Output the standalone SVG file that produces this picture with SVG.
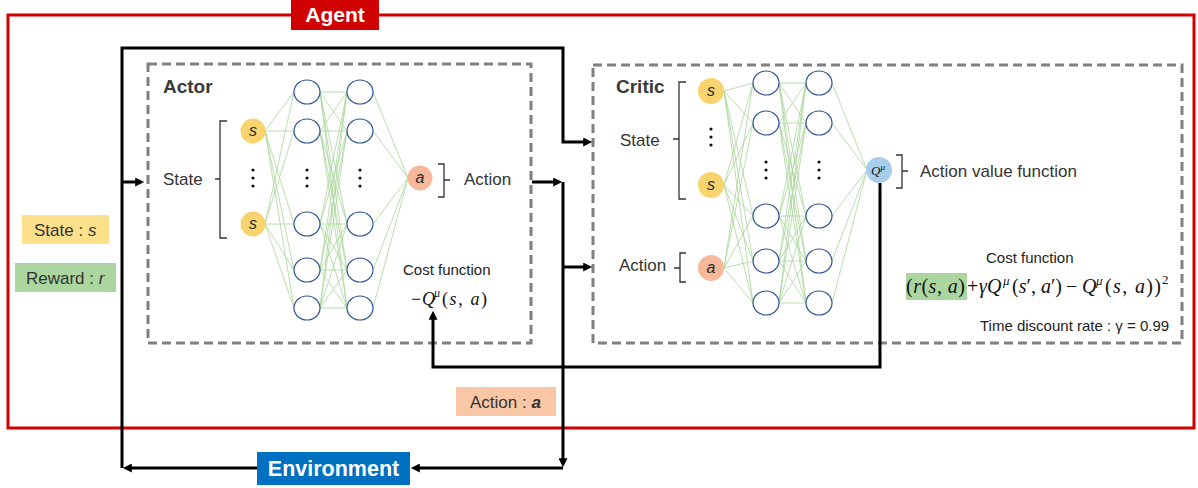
<svg xmlns="http://www.w3.org/2000/svg" width="1198" height="488" viewBox="0 0 1198 488">
<style>
.sans{font-family:"Liberation Sans",Arial,sans-serif;}
.serif{font-family:"Liberation Serif","Times New Roman",serif;fill:#111;}
.lbl{font-family:"Liberation Sans",Arial,sans-serif;font-size:17px;fill:#333;}
.small{font-family:"Liberation Sans",Arial,sans-serif;font-size:15px;fill:#222;}
.title{font-family:"Liberation Sans",Arial,sans-serif;font-size:19px;font-weight:bold;fill:#3a3a3a;}
.dash{fill:none;stroke:#808080;stroke-width:3;stroke-dasharray:9 5;}
.hid{fill:#fff;stroke:#2F5597;stroke-width:1.2;}
.sin{fill:#F9D46E;}
.ain{fill:#F7B89B;}
.nt{font-family:"Liberation Sans",Arial,sans-serif;font-size:16px;font-style:italic;fill:#2a2a2a;text-anchor:middle;}
.wire{fill:none;stroke:#A9D69B;stroke-width:0.8;}
.br{fill:none;stroke:#333;stroke-width:1.3;}
.conn{fill:none;stroke:#000;stroke-width:3;}
.dot{fill:#111;}
.it{font-style:italic;}
</style>
<defs>
<marker id="arr" viewBox="0 0 10 10" refX="2" refY="5" markerWidth="10" markerHeight="9" markerUnits="userSpaceOnUse" orient="auto">
<path d="M0,0 L10,5 L0,10 z" fill="#000"/>
</marker>
</defs>
<rect width="1198" height="488" fill="#fff"/>

<g id="agent">
<rect x="8" y="15" width="1186" height="413" fill="none" stroke="#D00000" stroke-width="3"/>
<rect x="291" y="0" width="88" height="30" fill="#D00000"/>
<text x="335" y="22" class="sans" font-size="21" font-weight="bold" fill="#fff" text-anchor="middle">Agent</text>
</g>

<g id="legend-state">
<rect x="22" y="215" width="87" height="29" fill="#FCE08C"/>
<text x="34" y="236" class="lbl">State : <tspan class="it">s</tspan></text>
</g>
<g id="legend-reward">
<rect x="15" y="263" width="101" height="29" fill="#ABD69F"/>
<text x="26" y="284" class="lbl">Reward : <tspan class="it">r</tspan></text>
</g>
<g id="legend-action">
<rect x="456" y="387" width="100" height="29" fill="#F9C6A6"/>
<text x="470" y="408" class="lbl">Action :  <tspan class="it" font-weight="bold">a</tspan></text>
</g>

<g id="environment">
<rect x="257" y="452" width="153" height="33" fill="#0070C0"/>
<text x="333.5" y="476" class="sans" font-size="21.5" font-weight="bold" fill="#fff" text-anchor="middle">Environment</text>
</g>

<g id="actor">
<rect x="148" y="64" width="383" height="279" class="dash"/>
<text x="163" y="93" class="title">Actor</text>
<path class="wire" d="M265 131L294 92M265 131L294 131M265 131L294 224M265 131L294 270M265 131L294 308M265 224L294 92M265 224L294 131M265 224L294 224M265 224L294 270M265 224L294 308
M320 92L347 92M320 92L347 131M320 92L347 224M320 92L347 270M320 92L347 308
M320 131L347 92M320 131L347 131M320 131L347 224M320 131L347 270M320 131L347 308
M320 224L347 92M320 224L347 131M320 224L347 224M320 224L347 270M320 224L347 308
M320 270L347 92M320 270L347 131M320 270L347 224M320 270L347 270M320 270L347 308
M320 308L347 92M320 308L347 131M320 308L347 224M320 308L347 270M320 308L347 308
M373 92L408 178M373 131L408 178M373 224L408 178M373 270L408 178M373 308L408 178"/>
<circle cx="253" cy="131" r="12.5" class="sin"/>
<text x="253" y="136" class="nt">s</text>
<circle cx="253" cy="224" r="12.5" class="sin"/>
<text x="253" y="229" class="nt">s</text>
<circle cx="253" cy="170" r="1.6" class="dot"/><circle cx="253" cy="178" r="1.6" class="dot"/><circle cx="253" cy="186" r="1.6" class="dot"/>
<ellipse cx="307" cy="92" rx="13" ry="12" class="hid"/>
<ellipse cx="307" cy="131" rx="13" ry="12" class="hid"/>
<ellipse cx="307" cy="224" rx="13" ry="12" class="hid"/>
<ellipse cx="307" cy="270" rx="13" ry="12" class="hid"/>
<ellipse cx="307" cy="308" rx="13" ry="12" class="hid"/>
<circle cx="307" cy="170" r="1.6" class="dot"/><circle cx="307" cy="178" r="1.6" class="dot"/><circle cx="307" cy="186" r="1.6" class="dot"/>
<ellipse cx="360" cy="92" rx="13" ry="12" class="hid"/>
<ellipse cx="360" cy="131" rx="13" ry="12" class="hid"/>
<ellipse cx="360" cy="224" rx="13" ry="12" class="hid"/>
<ellipse cx="360" cy="270" rx="13" ry="12" class="hid"/>
<ellipse cx="360" cy="308" rx="13" ry="12" class="hid"/>
<circle cx="360" cy="170" r="1.6" class="dot"/><circle cx="360" cy="178" r="1.6" class="dot"/><circle cx="360" cy="186" r="1.6" class="dot"/>
<circle cx="420" cy="178" r="12.5" class="ain"/>
<text x="420" y="183" class="nt">a</text>
<path class="br" d="M227 121L220 121L220 238L227 238M220 179L215 179"/>
<text x="163" y="185" class="lbl">State</text>
<path class="br" d="M438 164L444 164L444 197L438 197M444 180L450 180"/>
<text x="464" y="185" class="lbl">Action</text>
<text x="403" y="275" class="small">Cost function</text>
<text x="411" y="305" class="serif" font-size="18">−</text>
<text x="422" y="305" class="serif it" font-size="18">Q</text>
<text x="434" y="297" class="serif it" font-size="12">μ</text>
<text x="442" y="305" class="serif" font-size="18" textLength="45" lengthAdjust="spacing">(<tspan class="it">s</tspan>, <tspan class="it">a</tspan>)</text>
</g>

<g id="critic">
<rect x="593" y="65" width="589" height="278" class="dash"/>
<text x="616" y="93" class="title">Critic</text>
<path class="wire" d="M724 91L753 83M724 91L753 123M724 91L753 216M724 91L753 261M724 91L753 303
M724 185L753 83M724 185L753 123M724 185L753 216M724 185L753 261M724 185L753 303
M724 268L753 83M724 268L753 123M724 268L753 216M724 268L753 261M724 268L753 303
M779 83L806 83M779 83L806 123M779 83L806 216M779 83L806 261M779 83L806 303
M779 123L806 83M779 123L806 123M779 123L806 216M779 123L806 261M779 123L806 303
M779 216L806 83M779 216L806 123M779 216L806 216M779 216L806 261M779 216L806 303
M779 261L806 83M779 261L806 123M779 261L806 216M779 261L806 261M779 261L806 303
M779 303L806 83M779 303L806 123M779 303L806 216M779 303L806 261M779 303L806 303
M832 83L867 170M832 123L867 170M832 216L867 170M832 261L867 170M832 303L867 170"/>
<circle cx="711" cy="91" r="13" class="sin"/>
<text x="711" y="96" class="nt">s</text>
<circle cx="711" cy="185" r="13" class="sin"/>
<text x="711" y="190" class="nt">s</text>
<circle cx="711" cy="268" r="13" class="ain"/>
<text x="711" y="273" class="nt">a</text>
<circle cx="711" cy="129" r="1.6" class="dot"/><circle cx="711" cy="137" r="1.6" class="dot"/><circle cx="711" cy="145" r="1.6" class="dot"/>
<ellipse cx="766" cy="83" rx="13" ry="12" class="hid"/>
<ellipse cx="766" cy="123" rx="13" ry="12" class="hid"/>
<ellipse cx="766" cy="216" rx="13" ry="12" class="hid"/>
<ellipse cx="766" cy="261" rx="13" ry="12" class="hid"/>
<ellipse cx="766" cy="303" rx="13" ry="12" class="hid"/>
<circle cx="766" cy="162" r="1.6" class="dot"/><circle cx="766" cy="170" r="1.6" class="dot"/><circle cx="766" cy="178" r="1.6" class="dot"/>
<ellipse cx="819" cy="83" rx="13" ry="12" class="hid"/>
<ellipse cx="819" cy="123" rx="13" ry="12" class="hid"/>
<ellipse cx="819" cy="216" rx="13" ry="12" class="hid"/>
<ellipse cx="819" cy="261" rx="13" ry="12" class="hid"/>
<ellipse cx="819" cy="303" rx="13" ry="12" class="hid"/>
<circle cx="819" cy="162" r="1.6" class="dot"/><circle cx="819" cy="170" r="1.6" class="dot"/><circle cx="819" cy="178" r="1.6" class="dot"/>
<circle cx="879" cy="170" r="13" fill="#A8CDEC"/>
<text x="871" y="175" class="serif it" font-size="13">Q<tspan font-size="9" dy="-5">μ</tspan></text>
<path class="br" d="M686 82L679 82L679 199L686 199M679 139L673 139"/>
<text x="620" y="146" class="lbl">State</text>
<path class="br" d="M686 253L680 253L680 282L686 282M680 268L674 268"/>
<text x="619" y="271" class="lbl">Action</text>
<path class="br" d="M896 155L902 155L902 188L896 188M902 171L908 171"/>
<text x="920" y="177" class="lbl">Action value function</text>
<text x="986" y="263" class="small">Cost function</text>
<rect x="906" y="273" width="61" height="27" fill="#ABD69F"/>
<text x="906" y="293" class="serif" font-size="20" textLength="59" lengthAdjust="spacing">(<tspan class="it">r</tspan>(<tspan class="it">s</tspan>, <tspan class="it">a</tspan>)</text>
<text x="967" y="293" class="serif" font-size="20">+</text>
<text x="979" y="293" class="serif it" font-size="20">γQ</text>
<text x="1003" y="285" class="serif it" font-size="13">μ</text>
<text x="1012" y="293" class="serif" font-size="20" textLength="50" lengthAdjust="spacing">(<tspan class="it">s</tspan>′, <tspan class="it">a</tspan>′)</text>
<text x="1066" y="293" class="serif" font-size="20">−</text>
<text x="1082" y="293" class="serif it" font-size="20">Q</text>
<text x="1096" y="285" class="serif it" font-size="13">μ</text>
<text x="1105" y="293" class="serif" font-size="20" textLength="56" lengthAdjust="spacing">(<tspan class="it">s</tspan>, <tspan class="it">a</tspan>))</text>
<text x="1162" y="284" class="serif" font-size="13">2</text>
<text x="980" y="331" class="small">Time discount rate : γ = 0.99</text>
</g>

<g id="connectors">
<path class="conn" d="M122 468L122 48L563 48L563 142L585 142" marker-end="url(#arr)"/>
<path class="conn" d="M122 182L137 182" marker-end="url(#arr)"/>
<path class="conn" d="M257 468L130 468" marker-end="url(#arr)"/>
<path class="conn" d="M532 182L555 182" marker-end="url(#arr)"/>
<path class="conn" d="M563 182L563 460" marker-end="url(#arr)"/>
<path class="conn" d="M563 468L418 468" marker-end="url(#arr)"/>
<path class="conn" d="M563 267L585 267" marker-end="url(#arr)"/>
<path class="conn" d="M880 183L880 367L433 367L433 318" marker-end="url(#arr)"/>
</g>
</svg>
